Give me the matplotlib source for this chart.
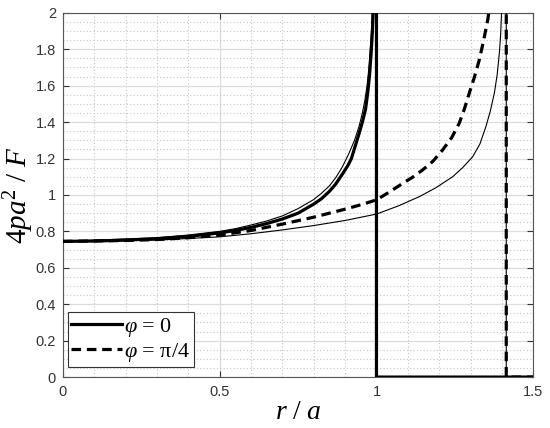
import numpy as np
import matplotlib
matplotlib.use("Agg")
import matplotlib.pyplot as plt
from matplotlib.ticker import MultipleLocator

plt.rcParams['mathtext.fontset'] = 'custom'
plt.rcParams['mathtext.rm'] = 'Liberation Serif'
plt.rcParams['mathtext.it'] = 'Liberation Serif:italic'

# values
# phi = 0, exact (thick solid)
r0 = [0, 0.1, 0.2, 0.3, 0.4, 0.5, 0.55, 0.6, 0.65, 0.7, 0.75, 0.8, 0.825, 0.85,
      0.87, 0.893, 0.91, 0.92, 0.935, 0.945, 0.955, 0.965, 0.972, 0.978, 0.983,
      0.987, 0.99, 0.995, 1.0, 1.0, 1.5]
p0 = [0.745, 0.747, 0.752, 0.76, 0.772, 0.792, 0.805, 0.822, 0.843, 0.868, 0.9,
      0.95, 0.98, 1.02, 1.06, 1.119, 1.165, 1.2, 1.284, 1.34, 1.40, 1.47, 1.56,
      1.66, 1.78, 1.9, 2.05, 2.5, 3.0, 0.0, 0.0]
# phi = 0, approximation (thin solid)
r0b = [0, 0.3, 0.4, 0.5, 0.55, 0.6, 0.65, 0.7, 0.75, 0.8, 0.825, 0.85, 0.87,
       0.89, 0.91, 0.93, 0.945, 0.955, 0.963, 0.97, 0.976, 0.98, 0.985, 0.988, 0.994]
p0b = [0.745, 0.765, 0.78, 0.80, 0.815, 0.835, 0.857, 0.885, 0.925, 0.975, 1.01,
       1.05, 1.095, 1.15, 1.22, 1.30, 1.38, 1.45, 1.52, 1.60, 1.70, 1.80, 1.92,
       2.05, 2.5]
# phi = pi/4, exact (thick dashed)
r1 = [0, 0.2, 0.3, 0.4, 0.5, 0.6, 0.7, 0.8, 0.9, 0.95, 1.0, 1.04, 1.084, 1.115,
      1.147, 1.18, 1.211, 1.24, 1.264, 1.28, 1.296, 1.312, 1.328, 1.342, 1.355,
      1.365, 1.375, 1.414, 1.414, 1.5]
p1 = [0.745, 0.75, 0.755, 0.765, 0.78, 0.805, 0.84, 0.878, 0.922, 0.946, 0.973,
      1.015, 1.064, 1.097, 1.137, 1.185, 1.247, 1.315, 1.394, 1.47, 1.559, 1.645,
      1.742, 1.85, 1.962, 2.08, 2.3, 2.3, 0.0, 0.0]
# phi = pi/4, approximation (thin solid)
r1b = [0, 0.3, 0.5, 0.6, 0.7, 0.8, 0.9, 1.0, 1.07, 1.137, 1.19, 1.243, 1.275,
       1.307, 1.33, 1.349, 1.363, 1.376, 1.385, 1.392, 1.396, 1.399, 1.406,
       1.414, 1.414, 1.5]
p1b = [0.745, 0.752, 0.77, 0.787, 0.808, 0.832, 0.86, 0.895, 0.94, 0.991, 1.04,
       1.10, 1.15, 1.21, 1.28, 1.375, 1.46, 1.559, 1.66, 1.78, 1.88, 2.0, 2.3,
       2.3, 0.0, 0.0]

xticks = [0, 0.5, 1, 1.5]
xticklabels = ['0', '0.5', '1', '1.5']
yticks = [0, 0.2, 0.4, 0.6, 0.8, 1.0, 1.2, 1.4, 1.6, 1.8, 2.0]
yticklabels = ['0', '0.2', '0.4', '0.6', '0.8', '1', '1.2', '1.4', '1.6', '1.8', '2']

fig = plt.figure(figsize=(5.5, 4.28), dpi=100)
ax = fig.add_axes([0.1145, 0.119, 0.855, 0.851])

ax.plot(r0b, p0b, color='black', lw=0.8, zorder=3)
ax.plot(r1b, p1b, color='black', lw=0.8, zorder=3)
l0, = ax.plot(r0, p0, color='black', lw=2.3, zorder=4, label=r'$\varphi$ = 0')
l1, = ax.plot(r1, p1, color='black', lw=2.3, zorder=4, dashes=(3.0, 1.8),
              label=r'$\varphi$ = $\mathrm{\pi}$/4')

ax.set_xlim(0, 1.5)
ax.set_ylim(0, 2)
ax.set_xticks(xticks)
ax.set_xticklabels(xticklabels)
ax.set_yticks(yticks)
ax.set_yticklabels(yticklabels)
ax.xaxis.set_minor_locator(MultipleLocator(0.1))
ax.yaxis.set_minor_locator(MultipleLocator(0.05))

ax.grid(which='major', color='#dcdcdc', lw=0.9, ls='-')
ax.grid(which='minor', color='#c4c4c4', lw=0.8, ls=(0, (1, 2)))
ax.set_axisbelow(True)
ax.tick_params(which='both', direction='in', top=True, right=True,
               labelsize=10.5, labelcolor='#333333', color='#333333')
ax.tick_params(which='major', length=4, width=0.8)
ax.tick_params(which='minor', length=0)
ax.tick_params(axis='x', pad=6)
ax.tick_params(axis='y', pad=5)
for s in ax.spines.values():
    s.set_color('#555555')
    s.set_linewidth(0.8)
for lab in ax.get_xticklabels() + ax.get_yticklabels():
    lab.set_family('Liberation Sans')

ax.set_xlabel(r'$r\ \mathrm{/}\ a$', fontsize=20, labelpad=-2)
ax.set_ylabel(r'$4pa^2\ \mathrm{/}\ F$', fontsize=21, labelpad=0)

leg = ax.legend(handles=[l0, l1], loc='lower left', bbox_to_anchor=(0.01, 0.027),
                borderaxespad=0, prop={'family': 'Liberation Serif', 'size': 16},
                handlelength=2.3, handletextpad=0.1, borderpad=0.15,
                labelspacing=0.1, fancybox=False, framealpha=1, edgecolor='#333333')
leg.get_frame().set_linewidth(0.8)

fig.savefig('out.png', dpi=100)
